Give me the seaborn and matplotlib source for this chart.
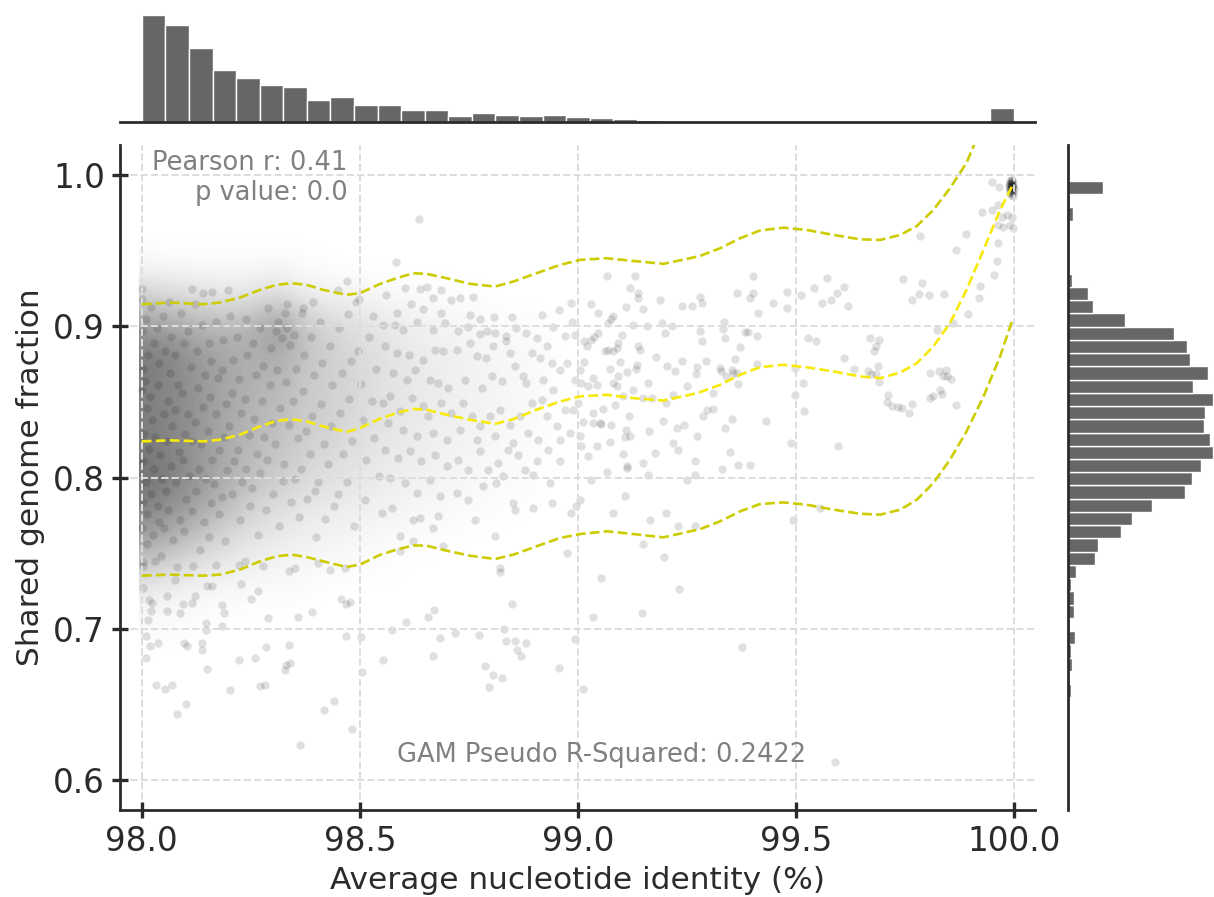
import numpy as np
import pandas as pd
import matplotlib
matplotlib.use("Agg")
import matplotlib.pyplot as plt
from matplotlib.colors import LinearSegmentedColormap
from matplotlib.ticker import FormatStrFormatter, MultipleLocator
import seaborn as sns

sns.set_style("ticks")
plt.rcParams["font.family"] = ["DejaVu Sans"]

# ---- marginal histograms (counts) ----
ani_range = (98.0, 100.0)
ani_counts = [1280, 1160, 884, 628, 528, 448, 424, 260, 296, 204, 200, 140, 144,
              76, 108, 80, 76, 88, 64, 48, 40, 24, 16, 16, 6, 16, 6, 4, 4, 6,
              4, 4, 4, 6, 6, 8, 172]
sgf_range = (0.655, 0.996)
sgf_counts = [9, 3, 15, 9, 23, 7, 20, 22, 12, 28, 95, 104, 182, 220, 291, 406,
              430, 459, 503, 492, 469, 474, 503, 434, 485, 423, 412, 366, 198,
              85, 69, 14, 0, 0, 0, 0, 18, 8, 121]

# ---- GAM fit (mean and band) ----
gam_x = [98.000, 98.064, 98.141, 98.179, 98.225, 98.271, 98.309, 98.343, 98.378,
         98.416, 98.469, 98.500, 98.546, 98.584, 98.622, 98.653, 98.699, 98.752,
         98.810, 98.852, 98.905, 98.959, 99.005, 99.066, 99.127, 99.196, 99.257,
         99.280, 99.326, 99.372, 99.417, 99.471, 99.524, 99.586, 99.647, 99.693,
         99.739, 99.777, 99.815, 99.853, 99.891, 99.930, 99.968, 99.995]
gam_mid = [0.8240, 0.8247, 0.8240, 0.8251, 0.8284, 0.8339, 0.8376, 0.8387, 0.8372,
           0.8339, 0.8302, 0.8328, 0.8390, 0.8427, 0.8455, 0.8449, 0.8416, 0.8383,
           0.8356, 0.8387, 0.8449, 0.8504, 0.8537, 0.8548, 0.8526, 0.8510, 0.8548,
           0.8565, 0.8614, 0.8680, 0.8730, 0.8746, 0.8730, 0.8702, 0.8669, 0.8658,
           0.8695, 0.8757, 0.8867, 0.9021, 0.9241, 0.9505, 0.9769, 0.9923]
gam_upper = [0.9146, 0.9157, 0.9146, 0.9157, 0.9190, 0.9241, 0.9274, 0.9285, 0.9274,
             0.9241, 0.9208, 0.9219, 0.9280, 0.9318, 0.9351, 0.9347, 0.9318, 0.9281,
             0.9263, 0.9296, 0.9351, 0.9406, 0.9439, 0.9450, 0.9432, 0.9413, 0.9450,
             0.9465, 0.9516, 0.9582, 0.9633, 0.9652, 0.9637, 0.9604, 0.9575, 0.9571,
             0.9604, 0.9663, 0.9769, 0.9912, 1.0080, 1.0350, 1.0650, 1.0850]
gam_lower = [0.7353, 0.7360, 0.7353, 0.7360, 0.7393, 0.7448, 0.7481, 0.7492, 0.7476,
             0.7448, 0.7410, 0.7426, 0.7490, 0.7525, 0.7553, 0.7551, 0.7518, 0.7485,
             0.7463, 0.7492, 0.7547, 0.7602, 0.7628, 0.7646, 0.7628, 0.7606, 0.7646,
             0.7660, 0.7712, 0.7778, 0.7826, 0.7837, 0.7822, 0.7789, 0.7762, 0.7756,
             0.7789, 0.7855, 0.7965, 0.8119, 0.8306, 0.8537, 0.8801, 0.9032]

# ---- overlap darkness of the crowded corner (98.0-99.0 x 0.67-0.97) ----
# one list per 0.05 ANI column, values for 0.96, 0.94, ... down to 0.68
crowd_density = [
    [0, 0.03, 0.18, 0.38, 0.52, 0.50, 0.50, 0.52, 0.55, 0.48, 0.36, 0.18, 0.05, 0.02, 0],
    [0, 0.02, 0.15, 0.35, 0.48, 0.47, 0.47, 0.48, 0.50, 0.43, 0.30, 0.14, 0.04, 0.01, 0],
    [0, 0.02, 0.13, 0.31, 0.42, 0.42, 0.43, 0.42, 0.43, 0.36, 0.24, 0.10, 0.03, 0.01, 0],
    [0, 0.02, 0.11, 0.28, 0.37, 0.37, 0.37, 0.36, 0.36, 0.29, 0.18, 0.08, 0.02, 0, 0],
    [0, 0.02, 0.10, 0.28, 0.33, 0.33, 0.32, 0.30, 0.29, 0.22, 0.13, 0.06, 0.02, 0, 0],
    [0, 0.02, 0.12, 0.33, 0.32, 0.29, 0.28, 0.26, 0.23, 0.16, 0.10, 0.05, 0.01, 0, 0],
    [0, 0.03, 0.14, 0.40, 0.33, 0.27, 0.26, 0.23, 0.20, 0.13, 0.08, 0.04, 0.01, 0, 0],
    [0, 0.01, 0.08, 0.24, 0.24, 0.22, 0.21, 0.19, 0.16, 0.10, 0.06, 0.03, 0.01, 0, 0],
    [0, 0.01, 0.06, 0.18, 0.20, 0.19, 0.19, 0.16, 0.13, 0.08, 0.05, 0.02, 0, 0, 0],
    [0, 0, 0.05, 0.14, 0.17, 0.17, 0.16, 0.14, 0.11, 0.07, 0.04, 0.02, 0, 0, 0],
    [0, 0, 0.04, 0.11, 0.14, 0.14, 0.13, 0.11, 0.09, 0.06, 0.03, 0.01, 0, 0, 0],
    [0, 0, 0.03, 0.09, 0.11, 0.11, 0.11, 0.09, 0.07, 0.05, 0.02, 0.01, 0, 0, 0],
    [0, 0, 0.02, 0.07, 0.09, 0.09, 0.09, 0.08, 0.06, 0.04, 0.02, 0, 0, 0, 0],
    [0, 0, 0.02, 0.05, 0.07, 0.08, 0.07, 0.06, 0.05, 0.03, 0.01, 0, 0, 0, 0],
    [0, 0, 0.01, 0.04, 0.06, 0.06, 0.06, 0.05, 0.04, 0.02, 0.01, 0, 0, 0, 0],
    [0, 0, 0.01, 0.03, 0.05, 0.05, 0.05, 0.04, 0.03, 0.02, 0, 0, 0, 0, 0],
    [0, 0, 0, 0.02, 0.04, 0.04, 0.04, 0.03, 0.02, 0.01, 0, 0, 0, 0, 0],
    [0, 0, 0, 0.02, 0.03, 0.03, 0.03, 0.02, 0.02, 0.01, 0, 0, 0, 0, 0],
    [0, 0, 0, 0.01, 0.02, 0.02, 0.02, 0.01, 0.01, 0, 0, 0, 0, 0, 0],
    [0, 0, 0, 0, 0, 0, 0, 0, 0, 0, 0, 0, 0, 0, 0],
]

# ---- individual genome pairs (ANI %, shared fraction) ----
core_pts = [
    (98.001, .918), (98.003, .897), (98.002, .872), (98.001, .858), (98.004, .829), (98.002, .811),
    (98.003, .784), (98.001, .767), (98.002, .744),
    (98.009, .905), (98.014, .881), (98.008, .864), (98.012, .846), (98.016, .819), (98.010, .797),
    (98.013, .776), (98.011, .756),
    (98.021, .913), (98.027, .889), (98.019, .853), (98.024, .838), (98.029, .806), (98.022, .789),
    (98.026, .762),
    (98.034, .899), (98.040, .876), (98.037, .861), (98.031, .827), (98.042, .815), (98.036, .781),
    (98.039, .771), (98.044, .748),
    (98.048, .907), (98.053, .884), (98.050, .842), (98.057, .824), (98.046, .799), (98.055, .791),
    (98.051, .767),
    (98.062, .916), (98.068, .893), (98.064, .869), (98.059, .851), (98.070, .834), (98.066, .808),
    (98.061, .779), (98.072, .759),
    (98.077, .881), (98.082, .861), (98.076, .845), (98.085, .817), (98.079, .797), (98.087, .772),
    (98.081, .741),
    (98.091, .909), (98.096, .889), (98.093, .856), (98.099, .829), (98.094, .812), (98.101, .786),
    (98.097, .765),
    (98.107, .897), (98.112, .873), (98.105, .842), (98.116, .824), (98.109, .801), (98.114, .778),
    (98.122, .915), (98.126, .884), (98.129, .859), (98.121, .837), (98.131, .806), (98.125, .791),
    (98.133, .752),
    (98.138, .901), (98.144, .868), (98.141, .847), (98.136, .822), (98.147, .799), (98.143, .771),
    (98.153, .889), (98.159, .877), (98.156, .853), (98.151, .831), (98.162, .812), (98.158, .783),
    (98.155, .761),
    (98.169, .903), (98.174, .866), (98.171, .842), (98.178, .818), (98.166, .796), (98.176, .776),
    (98.186, .891), (98.183, .871), (98.192, .849), (98.188, .827), (98.195, .805), (98.185, .787),
    (98.191, .758),
    (98.203, .907), (98.209, .878), (98.206, .856), (98.201, .834), (98.212, .811), (98.207, .789),
    (98.219, .893), (98.224, .865), (98.227, .843), (98.221, .818), (98.230, .797), (98.226, .772),
    (98.238, .905), (98.242, .881), (98.236, .852), (98.245, .828), (98.240, .806), (98.248, .781),
    (98.255, .889), (98.261, .868), (98.258, .839), (98.264, .816), (98.252, .793), (98.266, .762),
    (98.272, .899), (98.278, .874), (98.275, .851), (98.281, .827), (98.270, .803), (98.284, .779),
    (98.290, .912), (98.296, .886), (98.293, .861), (98.299, .836), (98.288, .812), (98.301, .789),
    (98.308, .897), (98.313, .903), (98.321, .892), (98.311, .871), (98.318, .846), (98.306, .822),
    (98.323, .798), (98.315, .768),
    (98.328, .909), (98.334, .899), (98.339, .888), (98.331, .863), (98.337, .835), (98.326, .809),
    (98.341, .784),
    (98.348, .894), (98.353, .872), (98.346, .851), (98.357, .826), (98.351, .799), (98.360, .774),
    (98.367, .909), (98.373, .881), (98.369, .857), (98.376, .831), (98.365, .806), (98.379, .786),
    (98.388, .893), (98.394, .868), (98.391, .841), (98.385, .816), (98.397, .791), (98.399, .761),
    (98.408, .903), (98.414, .876), (98.411, .849), (98.418, .822), (98.405, .797), (98.421, .773),
    (98.431, .887), (98.437, .861), (98.434, .834), (98.428, .809), (98.441, .781),
    (98.452, .899), (98.458, .869), (98.455, .843), (98.461, .816), (98.449, .789),
    (98.473, .908), (98.479, .877), (98.476, .852), (98.482, .824), (98.470, .797), (98.486, .768),
    (98.495, .884), (98.502, .862), (98.508, .838), (98.515, .812), (98.521, .893), (98.527, .851),
    (98.533, .826), (98.538, .872), (98.544, .801), (98.512, .785), (98.530, .907), (98.498, .918),
    (98.000, .925), (98.114, .925), (98.160, .923), (98.198, .924), (98.141, .922), (98.450, .924),
    (98.470, .930), (98.492, .916), (98.393, .916), (98.332, .915), (98.370, .912),
]
mid_pts = [
    (98.636, .9707), (98.583, .9428), (98.561, .9204), (98.603, .9252), (98.638, .9245),
    (98.653, .9263), (98.685, .9241), (98.710, .9175), (98.729, .9184), (98.760, .9197),
    (98.584, .9091), (98.617, .9149), (98.645, .9113), (98.668, .9186), (98.687, .9087),
    (98.752, .9076), (98.775, .9047), (98.807, .9061), (98.848, .9065), (98.918, .9076),
    (98.956, .9109), (98.983, .9157), (98.986, .9032),
    (98.554, .9010), (98.580, .9010), (98.599, .8977), (98.630, .9032), (98.668, .8977),
    (98.695, .9025), (98.726, .8966), (98.748, .8999), (98.775, .8950), (98.791, .8966),
    (98.810, .8959), (98.836, .8933), (98.859, .8988), (98.882, .8955), (98.905, .8922),
    (98.943, .8999), (98.970, .8933), (98.993, .8944),
    (98.557, .8867), (98.584, .8823), (98.613, .8812), (98.645, .8779), (98.672, .8845),
    (98.691, .8834), (98.722, .8845), (98.752, .8889), (98.768, .8801), (98.789, .8790),
    (98.806, .8867), (98.836, .8900), (98.844, .8823), (98.856, .8735), (98.875, .8669),
    (98.894, .8823), (98.913, .8790), (98.928, .8867), (98.940, .8757), (98.959, .8713),
    (98.974, .8757), (98.993, .8647), (98.576, .8691), (98.607, .8647), (98.626, .8713),
    (98.661, .8647), (98.680, .8625), (98.703, .8592), (98.741, .8647), (98.779, .8592),
    (98.802, .8669), (98.825, .8636), (98.882, .8625), (98.920, .8647), (98.943, .8581),
    (98.554, .8493), (98.569, .8537), (98.592, .8438), (98.619, .8526), (98.645, .8471),
    (98.657, .8405), (98.687, .8493), (98.710, .8427), (98.737, .8493), (98.756, .8405),
    (98.775, .8339), (98.798, .8405), (98.821, .8449), (98.844, .8350), (98.867, .8405),
    (98.894, .8493), (98.917, .8515), (98.928, .8405), (98.951, .8339), (98.970, .8449),
    (98.565, .8361), (98.599, .8317), (98.630, .8273), (98.668, .8295), (98.699, .8251),
    (98.729, .8317), (98.768, .8251), (98.810, .8273), (98.852, .8229), (98.886, .8295),
    (98.909, .8251), (98.959, .8251), (98.982, .8295),
    (98.557, .8185), (98.588, .8130), (98.615, .8174), (98.641, .8108), (98.672, .8152),
    (98.699, .8075), (98.726, .8119), (98.748, .8053), (98.775, .8174), (98.794, .8053),
    (98.817, .8097), (98.840, .8185), (98.863, .8152), (98.878, .8053), (98.905, .8108),
    (98.932, .8185), (98.959, .8108), (98.569, .7998), (98.603, .7965), (98.630, .7899),
    (98.661, .7987), (98.684, .7877), (98.722, .7899), (98.748, .7855), (98.783, .7943),
    (98.813, .7965), (98.829, .8009), (98.856, .7789), (98.852, .7833), (98.897, .7800),
    (98.897, .8020), (98.936, .7965), (98.940, .7833),
    (98.550, .7767), (98.573, .7800), (98.592, .7613), (98.622, .7723), (98.638, .7734),
    (98.668, .7668), (98.680, .7745), (98.764, .7723), (98.810, .7613), (98.592, .7514),
    (98.622, .7580), (98.691, .7551), (98.821, .7404), (98.974, .7503),
]
tail_pts = [
    (99.067, .9333), (99.131, .9333), (99.119, .9256), (99.138, .9219), (99.137, .9186),
    (99.188, .9175), (99.238, .9135), (99.261, .9135), (99.110, .9127), (99.150, .9113),
    (99.047, .9091), (99.029, .9146), (99.081, .9069), (99.075, .9047), (99.070, .9021),
    (99.127, .9010), (99.158, .9005), (99.192, .9025), (99.215, .9003), (99.280, .8972),
    (99.200, .8959), (99.047, .8959), (99.037, .8928), (99.029, .8911), (99.014, .8906),
    (99.020, .8867), (99.100, .8940), (99.093, .8893), (99.089, .8856), (99.081, .8834),
    (99.070, .8845), (99.062, .8840), (99.096, .8763), (99.137, .8871), (99.142, .8845),
    (99.180, .8796), (99.205, .8735), (99.223, .8708), (99.238, .8768), (99.272, .8730),
    (99.270, .8686), (99.161, .8629), (99.135, .8746), (99.133, .8717), (99.112, .8697),
    (99.091, .8669), (99.081, .8629), (99.089, .8607), (99.073, .8717), (99.005, .8713),
    (99.014, .8763), (99.034, .8658), (99.043, .8614), (99.008, .8625), (99.024, .8603),
    (99.251, .8603), (99.219, .8548), (99.203, .8493), (99.169, .8526), (99.150, .8526),
    (99.127, .8581), (99.104, .8537), (99.085, .8482), (99.035, .8427), (99.057, .8453),
    (99.051, .8361), (99.075, .8350), (99.054, .8356), (99.035, .8361), (99.012, .8365),
    (99.116, .8405), (99.110, .8317), (99.119, .8273), (99.108, .8268), (99.164, .8306),
    (99.196, .8372), (99.226, .8328), (99.243, .8350), (99.272, .8277), (99.230, .8185),
    (99.219, .8229), (99.177, .8163), (99.150, .8097), (99.112, .8075), (99.104, .8158),
    (99.073, .8233), (99.043, .8211), (99.024, .8141), (99.066, .8035), (99.031, .7987),
    (99.112, .8064), (99.161, .8020), (99.249, .7982), (99.268, .8108), (99.268, .8020),
    (99.109, .7877), (99.081, .7767), (99.165, .7718), (99.202, .7767), (99.230, .7679),
    (99.268, .7679), (99.150, .7562), (99.197, .7476), (99.005, .7855), (98.995, .7811),
    (98.985, .7767), (99.008, .8207), (99.005, .8273), (98.989, .8449), (99.001, .8493),
    (99.280, .9197), (99.284, .9153), (99.364, .9223), (99.402, .9333), (99.402, .9223),
    (99.394, .9186), (99.412, .9091), (99.448, .9157), (99.479, .9230), (99.480, .9120),
    (99.511, .9208), (99.542, .9256), (99.570, .9318), (99.559, .9157), (99.580, .9171),
    (99.593, .9223), (99.609, .9263), (99.619, .9135), (99.745, .9311), (99.788, .9285),
    (99.766, .9171), (99.782, .9212), (99.806, .9208), (99.840, .9212), (99.784, .9597),
    (99.889, .9611), (99.868, .9505), (99.926, .9754), (99.950, .9769), (99.950, .9956),
    (99.965, .9919), (99.964, .9802), (99.963, .9549), (99.960, .9432), (99.953, .9340),
    (99.922, .9267), (99.920, .9186), (99.894, .9083), (99.859, .9021), (99.823, .8973),
    (99.335, .9027), (99.333, .8983), (99.285, .8906), (99.338, .8922), (99.383, .8961),
    (99.391, .8961), (99.410, .8937), (99.372, .8862), (99.360, .8783), (99.294, .8774),
    (99.326, .8724), (99.327, .8708), (99.354, .8713), (99.356, .8695), (99.364, .8691),
    (99.339, .8669), (99.368, .8618), (99.310, .8559), (99.309, .8453), (99.295, .8449),
    (99.287, .8405), (99.354, .8387), (99.337, .8328), (99.349, .8167), (99.330, .8059),
    (99.368, .8086), (99.395, .8081), (99.431, .8378), (99.410, .8750), (99.498, .8724),
    (99.515, .8625), (99.497, .8548), (99.518, .8444), (99.489, .8229), (99.597, .8211),
    (99.528, .8922), (99.546, .8900), (99.611, .8790), (99.633, .8717), (99.664, .8708),
    (99.671, .8686), (99.683, .8686), (99.689, .8741), (99.690, .8631), (99.670, .8926),
    (99.691, .8907), (99.678, .8840), (99.683, .8867), (99.710, .8548), (99.708, .8499),
    (99.719, .8475), (99.735, .8466), (99.742, .8460), (99.758, .8427), (99.766, .8488),
    (99.807, .8695), (99.828, .8708), (99.843, .8713), (99.838, .8669), (99.846, .8669),
    (99.855, .8651), (99.830, .8581), (99.834, .8552), (99.813, .8537), (99.807, .8526),
    (99.867, .8482), (99.555, .7800), (99.492, .7718), (99.964, .9670), (99.972, .9725),
    (99.983, .9736), (99.995, .9725), (99.975, .9659), (99.991, .9670), (99.998, .9648),
]
low_pts = [
    (98.003, .7272), (98.016, .7195), (98.023, .7173), (98.020, .7118), (98.014, .7063),
    (98.010, .6953), (98.019, .6891), (98.037, .6909), (98.010, .6810), (98.033, .6634),
    (98.053, .6605), (98.070, .6632), (98.081, .6436), (98.101, .6504), (98.057, .7217),
    (98.057, .7118), (98.087, .7107), (98.094, .7166), (98.114, .7173), (98.121, .7217),
    (98.097, .6909), (98.103, .6891), (98.137, .6865), (98.137, .6909), (98.150, .6737),
    (98.148, .6997), (98.148, .7041), (98.150, .7283), (98.160, .7287), (98.184, .7162),
    (98.188, .7107), (98.184, .7023), (98.202, .6601), (98.224, .6795), (98.228, .7301),
    (98.251, .7199), (98.266, .7250), (98.259, .6808), (98.272, .6627), (98.283, .6632),
    (98.285, .6880), (98.289, .7074), (98.328, .6733), (98.331, .6766), (98.339, .6773),
    (98.337, .6898), (98.358, .7081), (98.362, .6234), (98.391, .7114), (98.418, .6465),
    (98.441, .6522), (98.457, .7199), (98.468, .7166), (98.478, .7177), (98.469, .6953),
    (98.483, .6341), (98.502, .6946), (98.505, .6718), (98.552, .6797), (98.573, .6997),
    (98.605, .7045), (98.656, .7081), (98.669, .7129), (98.667, .6821), (98.684, .6942),
    (98.719, .6971), (98.774, .6962), (98.786, .6753), (98.797, .6616), (98.806, .6696),
    (98.827, .6678), (98.822, .7378), (98.831, .7001), (98.834, .6920), (98.849, .7166),
    (98.855, .6920), (98.861, .6861), (98.870, .6821), (98.881, .6909), (98.956, .6740),
    (98.994, .6935), (99.012, .6607), (99.035, .7083), (99.052, .7336), (99.148, .7107),
    (99.231, .7265), (99.376, .6880), (99.590, .6123),
    (98.003, .7415), (98.030, .7448), (98.077, .7327), (98.117, .7415), (98.170, .7426),
    (98.224, .7426), (98.237, .7448), (98.277, .7419), (98.337, .7382), (98.351, .7404),
    (98.404, .7437), (98.431, .7393), (98.465, .7404),
]
identical_pts = [
    (99.990, .996), (99.992, .995), (99.994, .994), (99.991, .993), (99.995, .992), (99.993, .991),
    (99.996, .990), (99.990, .989), (99.997, .988), (99.994, .987), (99.992, .997), (99.996, .996),
    (99.989, .994), (99.998, .993), (99.993, .992), (99.991, .990), (99.995, .989), (99.997, .986),
    (99.999, .991), (99.988, .992), (99.994, .995), (99.996, .993), (99.992, .988), (99.998, .995),
    (99.990, .991), (99.995, .997), (99.993, .994), (99.997, .992),
]

pearson_r = 0.41
p_value = 0.0
gam_pseudo_r2 = 0.2422

# ------------------------------------------------------------------
pairs = pd.DataFrame(core_pts + mid_pts + tail_pts + low_pts + identical_pts,
                     columns=["ani", "sgf"])

ani_edges = np.linspace(ani_range[0], ani_range[1], len(ani_counts) + 1)
sgf_edges = np.linspace(sgf_range[0], sgf_range[1], len(sgf_counts) + 1)
ani_hist = pd.DataFrame({"center": (ani_edges[:-1] + ani_edges[1:]) / 2,
                         "count": ani_counts})
sgf_hist = pd.DataFrame({"center": (sgf_edges[:-1] + sgf_edges[1:]) / 2,
                         "count": sgf_counts})

W, H = 1214, 897
fig = plt.figure(figsize=(W / 100, H / 100), dpi=100)
ax = fig.add_axes([120 / W, 87 / H, 915 / W, 665 / H])
ax_top = fig.add_axes([120 / W, (H - 122) / H, 915 / W, 122 / H])
ax_right = fig.add_axes([1068 / W, 87 / H, 146 / W, 665 / H])

xlim = (97.95, 100.048)
ylim = (0.5805, 1.0198)
dark = "#2b2b2b"
bar_col = "#666666"

# overlap shading of the crowded corner, underneath the points
shade = LinearSegmentedColormap.from_list("shade", [(0, 0, 0, 0), (0, 0, 0, 1)])
ax.imshow(np.array(crowd_density).T, extent=(97.993, 98.993, 0.67, 0.97),
          origin="upper", cmap=shade, vmin=0, vmax=1, interpolation="bicubic",
          interpolation_stage="data", aspect="auto", zorder=1)

sns.scatterplot(data=pairs, x="ani", y="sgf", ax=ax, color="black", alpha=0.12,
                s=36, linewidth=0, zorder=2, legend=False)

sns.lineplot(x=gam_x, y=gam_upper, ax=ax, color="#cccc00", linestyle="--", linewidth=1.9, zorder=3)
sns.lineplot(x=gam_x, y=gam_lower, ax=ax, color="#cccc00", linestyle="--", linewidth=1.9, zorder=3)
sns.lineplot(x=gam_x, y=gam_mid, ax=ax, color="#f7e90a", linestyle="--", linewidth=1.9, zorder=3)

ax.set_xlim(xlim)
ax.set_ylim(ylim)
ax.xaxis.set_major_locator(MultipleLocator(0.5))
ax.yaxis.set_major_locator(MultipleLocator(0.1))
ax.xaxis.set_major_formatter(FormatStrFormatter("%.1f"))
ax.yaxis.set_major_formatter(FormatStrFormatter("%.1f"))
# grid sits over the points, as in the original
ax.set_axisbelow(False)
ax.grid(True, linestyle="--", color="#dddddd", linewidth=1.4)
for side in ["top", "right"]:
    ax.spines[side].set_visible(False)
for side in ["left", "bottom"]:
    ax.spines[side].set_color(dark)
    ax.spines[side].set_linewidth(2.0)
ax.tick_params(direction="inout", length=11.5, width=2.4, color=dark,
               labelsize=23.5, labelcolor=dark, pad=5)
ax.set_xlabel("Average nucleotide identity (%)", fontsize=22.5, color=dark, labelpad=6)
ax.set_ylabel("Shared genome fraction", fontsize=22.5, color=dark, labelpad=6)

ax.text(0.249, 0.992, f"Pearson r: {pearson_r}\np value: {p_value}", transform=ax.transAxes,
        ha="right", va="top", fontsize=18.5, color="#808080", zorder=4)
ax.text(0.526, 0.083, f"GAM Pseudo R-Squared: {gam_pseudo_r2}", transform=ax.transAxes,
        ha="center", va="center", fontsize=18.5, color="#808080", zorder=4)

# marginal histograms
sns.histplot(data=ani_hist, x="center", weights="count", bins=list(ani_edges), ax=ax_top,
             color=bar_col, alpha=1, edgecolor="white", linewidth=1)
ax_top.set_xlim(xlim)
ax_top.set_ylim(0, 1460)
sns.histplot(data=sgf_hist, y="center", weights="count", bins=list(sgf_edges), ax=ax_right,
             color=bar_col, alpha=1, edgecolor="white", linewidth=1)
ax_right.set_ylim(ylim)
ax_right.set_xlim(0, 505)

for a, keep in [(ax_top, "bottom"), (ax_right, "left")]:
    a.set_xlabel("")
    a.set_ylabel("")
    a.set_xticks([])
    a.set_yticks([])
    for side in ["top", "right", "left", "bottom"]:
        a.spines[side].set_visible(side == keep)
    a.spines[keep].set_color(dark)
    a.spines[keep].set_linewidth(2.0)
    a.set_facecolor("none")

fig.savefig("out.png", dpi=100, facecolor="white")
